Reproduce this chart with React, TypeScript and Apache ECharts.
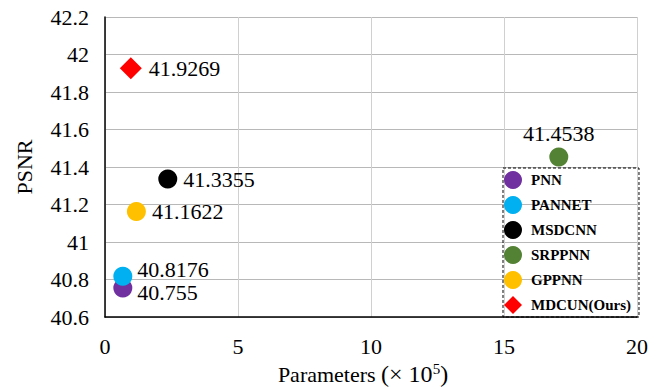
import React, { useEffect, useRef } from "react";
import * as echarts from "echarts";

const methods = ["PNN", "PANNET", "MSDCNN", "SRPPNN", "GPPNN", "MDCUN(Ours)"];
const params = [0.67, 0.67, 2.36, 17.06, 1.18, 0.97];
const psnr = [40.755, 40.8176, 41.3355, 41.4538, 41.1622, 41.9269];
const colors = ["#7030A0", "#00B0F0", "#000000", "#548235", "#FFC000", "#FF0000"];
const symbols = ["circle", "circle", "circle", "circle", "circle", "diamond"];
const labelPos: any[] = [
  { position: "right", offset: [0, 5], distance: 5 },
  { position: "right", offset: [0, -7], distance: 5 },
  { position: "right", offset: [0, 0], distance: 6 },
  { position: "top", offset: [0, 0], distance: 3 },
  { position: "right", offset: [0, 0], distance: 6 },
  { position: "right", offset: [0, 0], distance: 7 },
];

const FONT = "Liberation Serif";

export default function App() {
  const ref = useRef<HTMLDivElement>(null);
  useEffect(() => {
    document.body.style.margin = "0";
    const chart = echarts.init(ref.current!, null, { renderer: "svg" });
    chart.setOption({
      animation: false,
      textStyle: { fontFamily: FONT },
      grid: { left: 105, top: 17, right: 20, bottom: 72, containLabel: false, outerBoundsMode: "none" },
      xAxis: {
        type: "value",
        min: 0,
        max: 20,
        interval: 5,
        name: "{a|Parameters} {b|(× 10}{sup|5}{b|)}",
        nameLocation: "middle",
        nameGap: 40,
        nameTextStyle: {
          fontFamily: FONT,
          fontSize: 22,
          color: "#000",
          padding: [0, 16, 0, 0],
          rich: {
            a: { fontFamily: FONT, fontSize: 22, color: "#000" },
            b: { fontFamily: FONT, fontSize: 24, color: "#000" },
            sup: { fontFamily: FONT, fontSize: 15, color: "#000", verticalAlign: "top", padding: [0, 0, 10, 0] },
          },
        },
        axisLine: { show: true, lineStyle: { color: "#000", width: 1.5 } },
        axisTick: { show: false },
        axisLabel: { fontFamily: FONT, fontSize: 22, color: "#000", margin: 18 },
        splitLine: { show: true, lineStyle: { color: "#d0d0d0", width: 1 } },
      },
      yAxis: {
        type: "value",
        min: 40.6,
        max: 42.2,
        interval: 0.2,
        name: "PSNR",
        nameLocation: "middle",
        nameGap: 70,
        nameTextStyle: { fontFamily: FONT, fontSize: 22, color: "#000" },
        axisLine: { show: true, lineStyle: { color: "#000", width: 1.5 } },
        axisTick: { show: false },
        axisLabel: {
          fontFamily: FONT,
          fontSize: 22,
          color: "#000",
          margin: 16,
          formatter: (v: number) => String(parseFloat(v.toFixed(1))),
        },
        splitLine: { show: true, lineStyle: { color: "#b8b8b8", width: 1 } },
      },
      legend: {
        orient: "vertical",
        left: 503,
        top: 168,
        itemWidth: 18,
        itemHeight: 18,
        itemGap: 7,
        padding: [3, 8, 3, 1],
        borderColor: "#000",
        borderWidth: 1,
        borderType: [3, 2],
        itemStyle: { borderWidth: 0 },
        textStyle: { fontFamily: FONT, fontSize: 15, fontWeight: "bold", color: "#000", padding: [0, 0, 0, 4] },
        data: methods.map((m, i) => ({ name: m, icon: symbols[i] })),
      },
      series: methods.map((m, i) => ({
        name: m,
        type: "scatter",
        symbol: symbols[i],
        symbolSize: symbols[i] === "diamond" ? 22 : 19,
        itemStyle: { color: colors[i], opacity: 1 },
        data: [[params[i], psnr[i]]],
        label: {
          show: true,
          formatter: () => String(psnr[i]),
          fontFamily: FONT,
          fontSize: 22,
          color: "#000",
          ...labelPos[i],
        },
      })),
    });
    return () => chart.dispose();
  }, []);
  return <div ref={ref} style={{ width: 657, height: 389 }} />;
}
